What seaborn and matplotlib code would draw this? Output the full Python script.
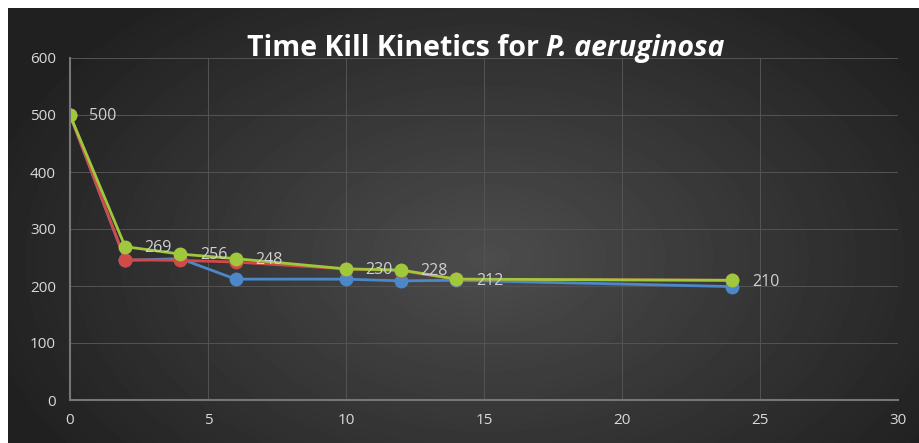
import numpy as np
import pandas as pd
import matplotlib
matplotlib.use('Agg')
import matplotlib.pyplot as plt
import seaborn as sns

# Data
time_h = [0, 2, 4, 6, 10, 12, 14, 24]
blue_vals = [500, 245, 248, 212, 212, 209, 210, 199]
red_vals = [500, 246, 245, 242, 230, 227, 212, 210]
green_vals = [500, 269, 256, 248, 230, 228, 212, 210]
green_labels = ['500', '269', '256', '248', '230', '228', '212', '210']

x_ticks = [0, 5, 10, 15, 20, 25, 30]
y_ticks = [0, 100, 200, 300, 400, 500, 600]

df = pd.DataFrame({'time': time_h * 3,
                   'value': blue_vals + red_vals + green_vals,
                   'series': ['blue'] * 8 + ['red'] * 8 + ['green'] * 8})

palette = {'blue': '#4c87c9', 'red': '#d24a48', 'green': '#a0c83c'}

sns.set_style('dark')
plt.rcParams['font.family'] = ['Open Sans', 'DejaVu Sans']

W, H = 919, 443
fig = plt.figure(figsize=(W / 100, H / 100), dpi=100, facecolor='white')

# radial gradient background
bg = fig.add_axes([8 / W, 0, (W - 8) / W, (H - 8) / H])
yy, xx = np.mgrid[0:435, 0:911]
cx, cy = 480, 250
r = np.sqrt(((xx - cx) / 520) ** 2 + ((yy - cy) / 330) ** 2)
shade = np.clip(0.30 - 0.17 * r, 0.13, 0.30)
bg.imshow(shade, cmap='gray', vmin=0, vmax=1, aspect='auto', interpolation='bilinear')
bg.axis('off')

ax = fig.add_axes([70 / W, (H - 400) / H, (898 - 70) / W, (400 - 58) / H])
ax.patch.set_alpha(0)

sns.lineplot(data=df, x='time', y='value', hue='series', palette=palette,
             hue_order=['blue', 'red', 'green'], marker='o', markersize=10,
             markeredgewidth=0, linewidth=2, legend=False, ax=ax)

for x, y, lab in zip(time_h, green_vals, green_labels):
    ax.annotate(lab, (x, y), xytext=(14, -1), textcoords='offset points',
                color='#d0d0d0', fontsize=11.5, va='center', ha='left')

ax.set_xlim(0, 30)
ax.set_ylim(0, 600)
ax.set_xticks(x_ticks)
ax.set_yticks(y_ticks)
ax.grid(True, color='#545454', linewidth=0.7)
ax.tick_params(colors='#d9d9d9', labelsize=11, length=0)
ax.tick_params(axis='x', pad=9)
ax.tick_params(axis='y', pad=10)
ax.set_xlabel('')
ax.set_ylabel('')
for side in ['top', 'right']:
    ax.spines[side].set_visible(False)
for side in ['left', 'bottom']:
    ax.spines[side].set_color('#767676')
    ax.spines[side].set_linewidth(1.5)

# title: regular bold part + bold italic species name, centred together
t1 = fig.text(0, 1 - 56 / H, 'Time Kill Kinetics for ', ha='left', va='baseline',
              color='white', fontsize=20.5, fontweight='bold')
t2 = fig.text(0, 1 - 56 / H, 'P. aeruginosa', ha='left', va='baseline',
              color='white', fontsize=20.5, fontweight='bold', fontstyle='italic')
renderer = fig.canvas.get_renderer()
w1 = t1.get_window_extent(renderer).width
w2 = t2.get_window_extent(renderer).width
x0 = 486 - (w1 + w2) / 2
t1.set_x(x0 / W)
t2.set_x((x0 + w1) / W)

fig.savefig('out.png', dpi=100, facecolor='white')
